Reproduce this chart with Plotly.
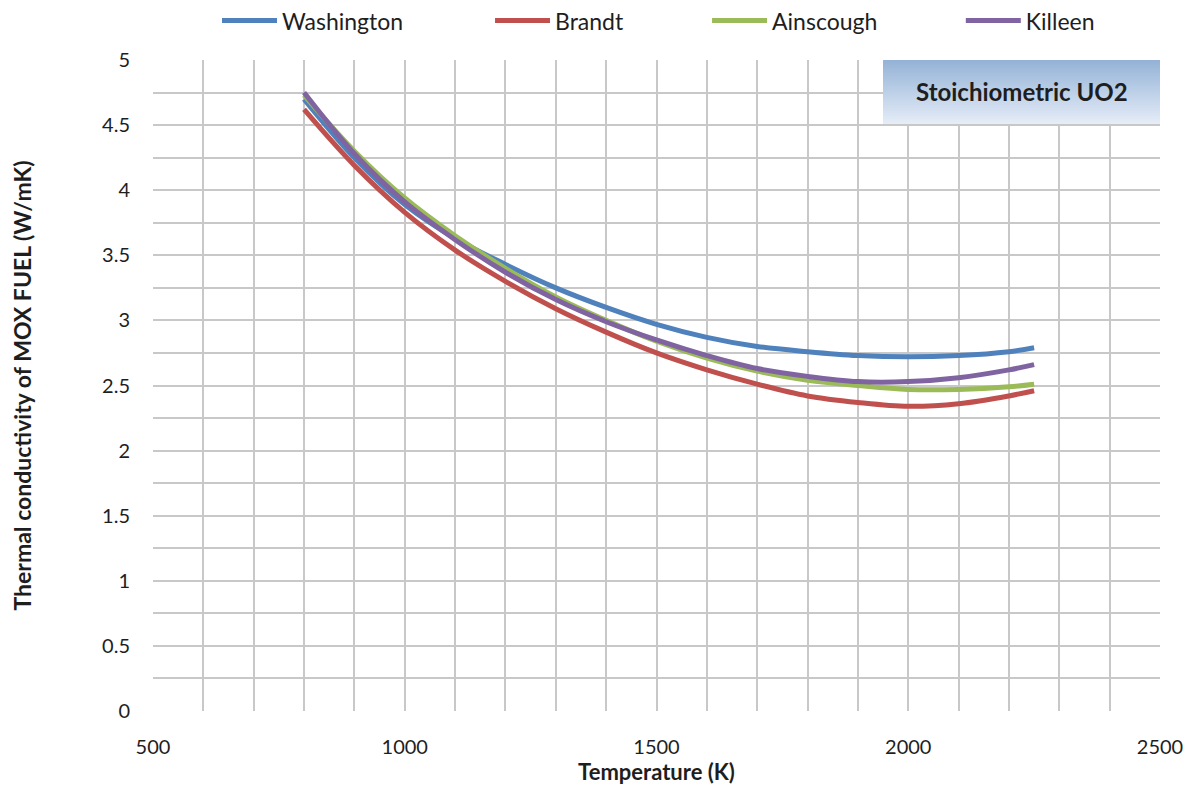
import plotly.graph_objects as go

temperature = [800, 900, 1000, 1100, 1200, 1300, 1400, 1500, 1600, 1700, 1800, 1900, 2000, 2100, 2200, 2250]
washington = [4.70, 4.25, 3.89, 3.63, 3.43, 3.25, 3.10, 2.97, 2.87, 2.80, 2.76, 2.73, 2.72, 2.73, 2.76, 2.79]
brandt =     [4.62, 4.19, 3.83, 3.54, 3.30, 3.09, 2.91, 2.75, 2.62, 2.51, 2.42, 2.37, 2.34, 2.36, 2.42, 2.46]
ainscough =  [4.73, 4.30, 3.94, 3.65, 3.40, 3.18, 3.00, 2.84, 2.71, 2.61, 2.54, 2.50, 2.47, 2.47, 2.49, 2.51]
killeen =    [4.75, 4.28, 3.91, 3.62, 3.37, 3.16, 2.99, 2.85, 2.73, 2.63, 2.57, 2.53, 2.53, 2.56, 2.62, 2.66]

series_names = ["Washington", "Brandt", "Ainscough", "Killeen"]
series_values = [washington, brandt, ainscough, killeen]
colors = ["#4F81BD", "#C0504D", "#9BBB59", "#8064A2"]
legend_ids = ["legend", "legend2", "legend3", "legend4"]
legend_x = [0.1746, 0.4027, 0.584, 0.796]

FONT = "Lato, 'Open Sans', sans-serif"
TXT = "#1e1e1e"

fig = go.Figure()
for name, vals, col, lid in zip(series_names, series_values, colors, legend_ids):
    fig.add_trace(go.Scatter(
        x=temperature, y=vals, name=name, mode="lines",
        line=dict(color=col, width=5, shape="spline", smoothing=1.0),
        legend=lid,
    ))

# gradient-filled label box (stacked rectangles, each reaching to the bottom)
box_x0, box_x1, box_y0, box_y1 = 1950, 2500, 4.51, 5.0
n = 40
top = (149, 179, 215)
bot = (228, 236, 247)
for i in range(n):
    t = i / (n - 1)
    c = tuple(int(round(top[k] + (bot[k] - top[k]) * t)) for k in range(3))
    ya = box_y1 - (box_y1 - box_y0) * i / n
    fig.add_shape(type="rect", xref="x", yref="y", x0=box_x0, x1=box_x1, y0=box_y0, y1=ya,
                  fillcolor="rgb(%d,%d,%d)" % c, line=dict(width=0), layer="above")
fig.add_annotation(x=(box_x0 + box_x1) / 2, y=(box_y0 + box_y1) / 2, xref="x", yref="y",
                   text="<b>Stoichiometric UO2</b>", showarrow=False,
                   font=dict(family=FONT, size=24, color=TXT))

legend_common = dict(orientation="h", yref="container", xref="container",
                     yanchor="middle", y=0.984, xanchor="left", itemwidth=55,
                     bgcolor="rgba(0,0,0,0)", font=dict(family=FONT, size=23, color=TXT))
layout_legends = {}
for lid, lx in zip(legend_ids, legend_x):
    d = dict(legend_common)
    d["x"] = lx
    layout_legends[lid] = d

grid_col = "#C8C8C8"
fig.update_layout(
    width=1197, height=787,
    margin=dict(l=145, r=45, t=52, b=84, autoexpand=False),
    paper_bgcolor="white", plot_bgcolor="white",
    font=dict(family=FONT, size=20, color=TXT),
    showlegend=True,
    **layout_legends,
    xaxis=dict(
        range=[500, 2500], dtick=500, tick0=500, automargin=False,
        showgrid=True, gridcolor=grid_col, gridwidth=2,
        minor=dict(dtick=100, showgrid=True, gridcolor=grid_col, gridwidth=2),
        zeroline=False, showline=False, ticks="",
        ticklabelstandoff=22,
        tickfont=dict(family=FONT, size=20, color=TXT),
        title=dict(text="<b>Temperature (K)</b>", font=dict(family=FONT, size=22, color=TXT), standoff=0),
    ),
    yaxis=dict(
        range=[0, 5], dtick=0.5, tick0=0, automargin=False,
        showgrid=True, gridcolor=grid_col, gridwidth=2,
        minor=dict(dtick=0.25, showgrid=True, gridcolor=grid_col, gridwidth=2),
        zeroline=False, showline=False, ticks="",
        ticklabelstandoff=22,
        tickfont=dict(family=FONT, size=20, color=TXT),
        title=dict(text="<b>Thermal conductivity of MOX FUEL (W/mK)</b>", font=dict(family=FONT, size=23, color=TXT), standoff=74),
    ),
)

fig.write_html("out.html")
